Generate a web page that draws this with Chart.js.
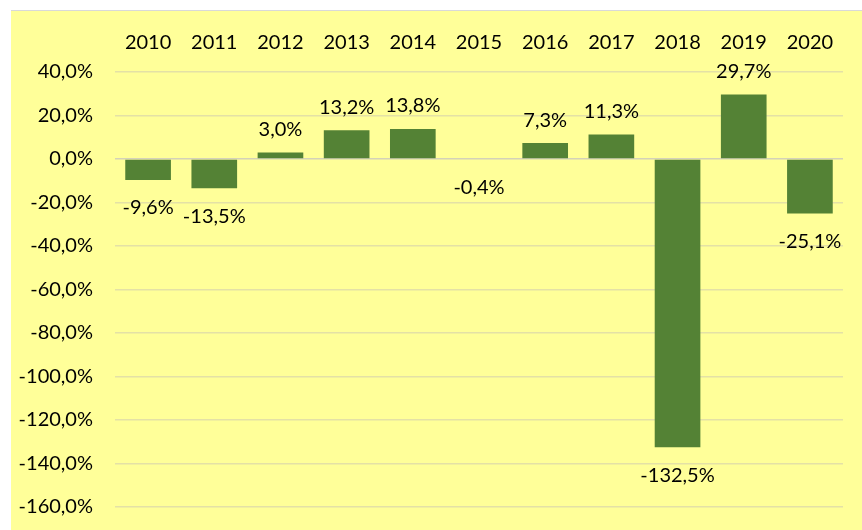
<!DOCTYPE html>
<html>
<head>
<meta charset="utf-8">
<script src="https://cdn.jsdelivr.net/npm/chart.js@4"></script>
<style>
    html, body { margin: 0; padding: 0; background: #ffffff; }
    #frame {
        position: absolute; left: 11px; top: 10px; width: 851px; height: 519px;
        background: #FFFF99; border-top: 1px solid #d9d9d9;
    }
    #wrap { position: absolute; left: 0; top: 0; width: 862px; height: 530px; }
</style>
</head>
<body>
<div id="frame"></div>
<div id="wrap"><canvas id="growthChart" width="862" height="530"></canvas></div>
<script>
const years = ['2010', '2011', '2012', '2013', '2014', '2015', '2016', '2017', '2018', '2019', '2020'];
const growthValues = [-9.6, -13.5, 3.0, 13.2, 13.8, -0.4, 7.3, 11.3, -132.5, 29.7, -25.1];
const yTicks = [40, 20, 0, -20, -40, -60, -80, -100, -120, -140, -160];

const barColor = '#548235'; // excel green
const textFont = { family: 'Lato', size: 20 };

function fmtPercent(value) {
    return value.toFixed(1).replace('.', ',') + '%';
}

// labels at the end of each bar, above for positive, below for negative
const barLabels = {
    id: 'barLabels',
    afterDatasetsDraw(chart) {
        const ctx = chart.ctx;
        const meta = chart.getDatasetMeta(0);
        ctx.save();
        ctx.font = textFont.size + 'px ' + textFont.family;
        ctx.fillStyle = '#000000';
        ctx.textAlign = 'center';
        ctx.textBaseline = 'middle';
        meta.data.forEach((bar, i) => {
            const v = growthValues[i];
            const y = v >= 0 ? bar.y - 23 : bar.y + 28;
            ctx.fillText(fmtPercent(v), bar.x, y);
        });
        ctx.restore();
    }
};

const ctx = document.getElementById('growthChart').getContext('2d');
new Chart(ctx, {
    type: 'bar',
    data: {
        labels: years,
        datasets: [{
            data: growthValues,
            backgroundColor: barColor,
            barPercentage: 0.69,
            categoryPercentage: 1.0,
        }]
    },
    options: {
        responsive: false,
        animation: false,
        layout: {
            padding: { left: 0, right: 19, top: 20, bottom: 23 }
        },
        plugins: {
            legend: { display: false },
            tooltip: { enabled: false }
        },
        scales: {
            x: {
                position: 'top',
                grid: { display: false, drawTicks: false },
                border: { display: false },
                ticks: {
                    color: '#000000',
                    font: textFont,
                    padding: 17,
                    maxRotation: 0,
                },
                afterFit: function(scale) {
                    scale.height = 52;
                }
            },
            y: {
                min: yTicks[yTicks.length - 1],
                max: yTicks[0],
                grid: {
                    color: function(context) {
                        return context.tick.value === 0 ? '#d4d2b8' : '#e4e1a6';
                    },
                    lineWidth: 1.5,
                    drawTicks: true,
                    tickLength: 22,
                    tickColor: 'rgba(0,0,0,0)',
                },
                border: { display: false },
                afterBuildTicks: function(scale) {
                    scale.ticks = yTicks.map(v => ({ value: v }));
                },
                ticks: {
                    color: '#000000',
                    font: textFont,
                    padding: 0,
                    callback: function(value) {
                        return fmtPercent(value);
                    }
                },
                afterFit: function(scale) {
                    scale.width = 115;
                }
            }
        }
    },
    plugins: [barLabels]
});
</script>
</body>
</html>
